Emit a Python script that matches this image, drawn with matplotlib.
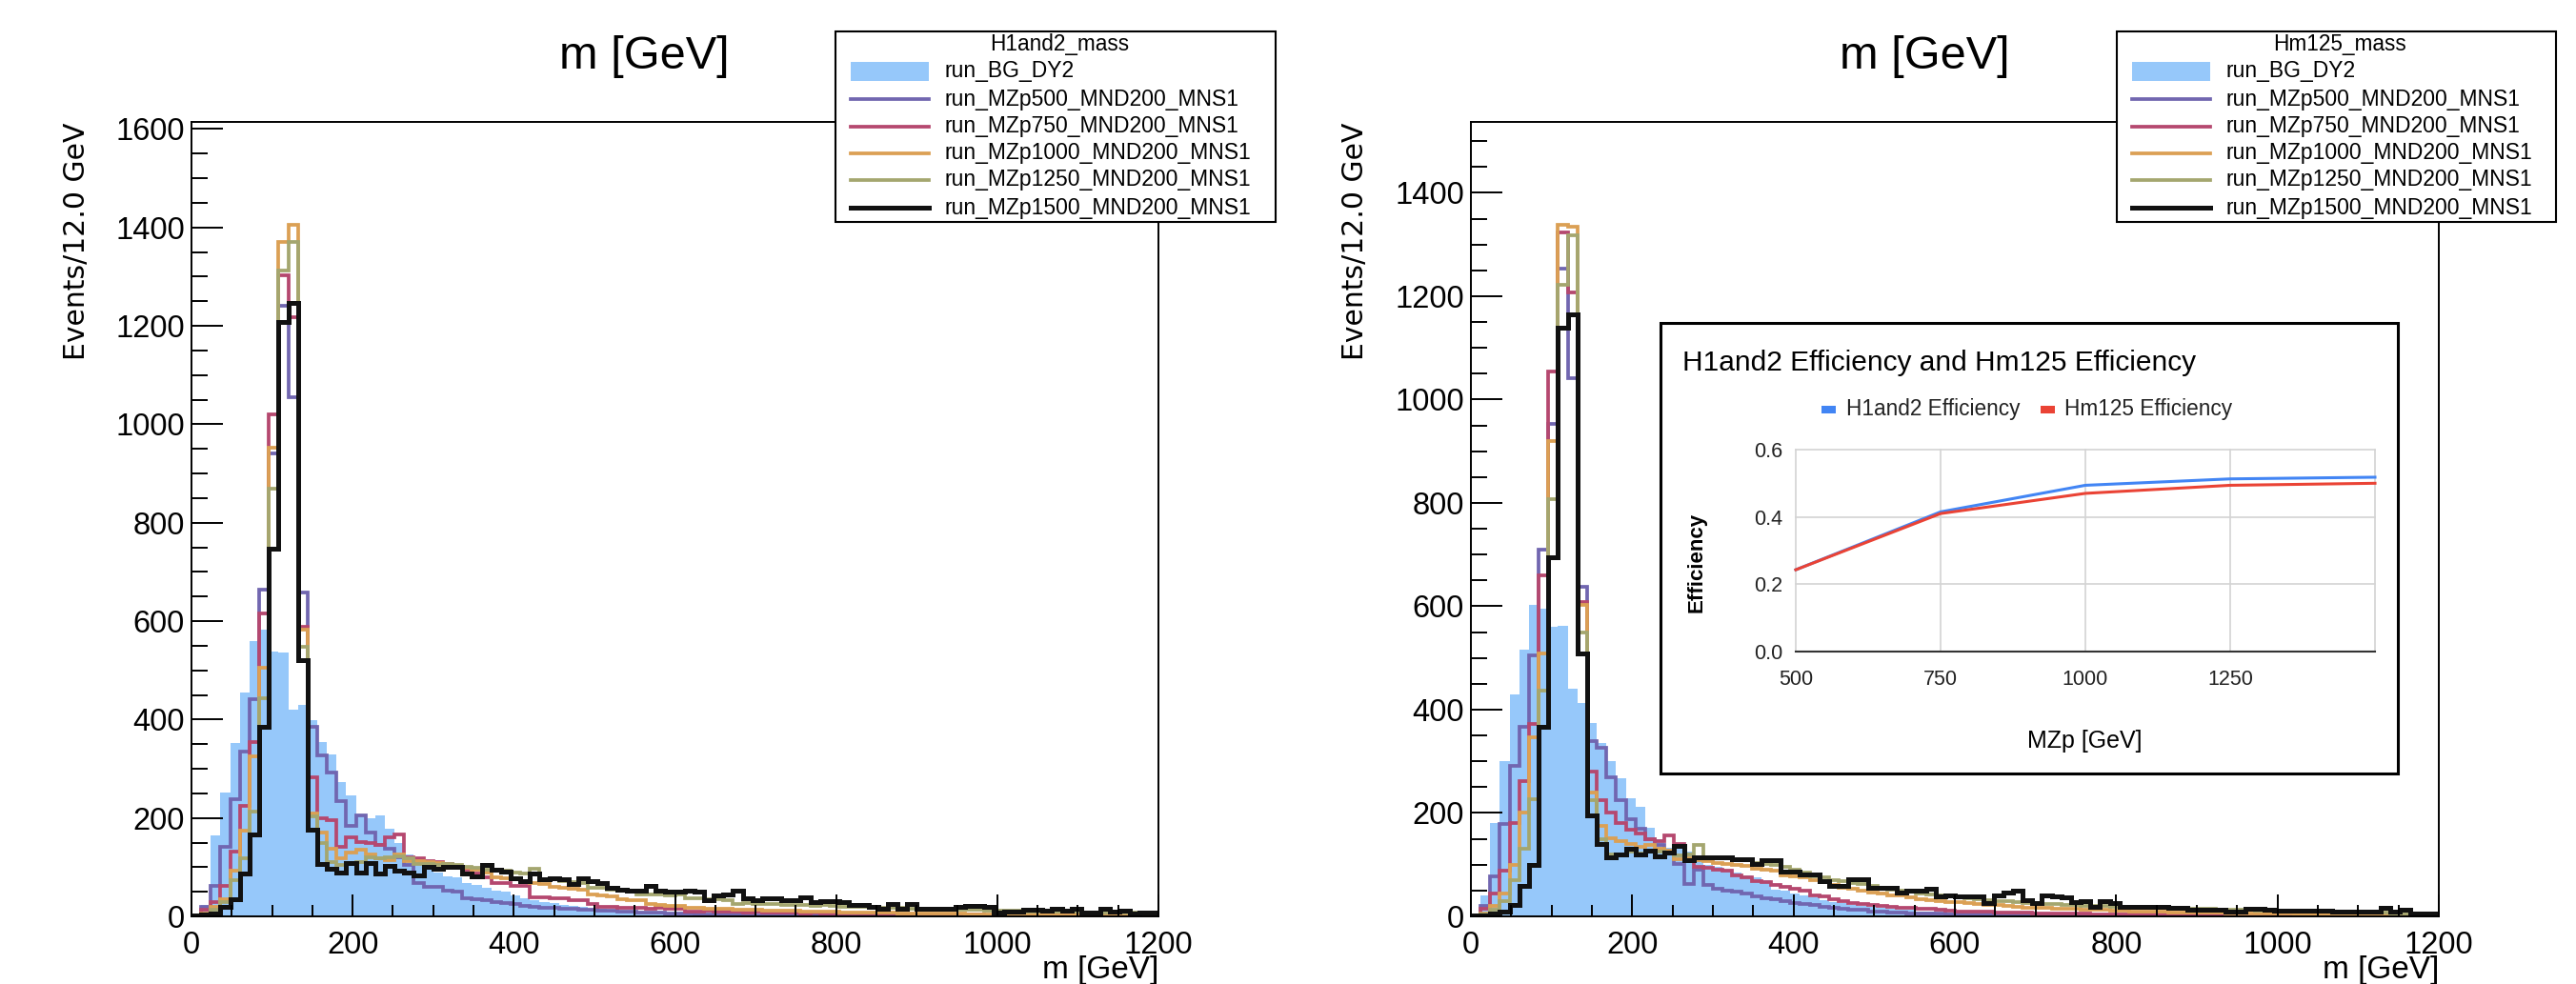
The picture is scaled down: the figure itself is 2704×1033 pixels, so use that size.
import matplotlib
matplotlib.use("Agg")
import matplotlib.pyplot as plt
import numpy as np
from matplotlib.patches import Rectangle
from matplotlib.lines import Line2D

plt.rcParams['font.family'] = ['Liberation Sans', 'DejaVu Sans']

# ---------------- data ----------------
bin_edges = np.linspace(0, 1200, 101)   # 100 bins of 12 GeV

series_names = ["run_BG_DY2", "run_MZp500_MND200_MNS1", "run_MZp750_MND200_MNS1",
                "run_MZp1000_MND200_MNS1", "run_MZp1250_MND200_MNS1", "run_MZp1500_MND200_MNS1"]

# ---- H1and2_mass (left panel) ----
h1_bg = [5, 24, 164, 252, 352, 454, 560, 583, 539, 536,
         420, 430, 399, 355, 330, 272, 245, 205, 200, 205,
         178, 150, 125, 113, 95, 90, 82, 80, 68, 64,
         58, 52, 50, 42, 37, 33, 30, 27, 24, 21,
         19, 16, 15, 13, 12, 11, 10, 9, 8, 7,
         7, 6, 5, 5, 5, 4, 4, 3, 3, 3,
         3, 2, 2, 2, 2, 2, 1, 2, 1, 1,
         1, 1, 1, 1, 1, 1, 1, 0, 1, 0,
         1, 0, 0, 1, 0, 0, 0, 1, 0, 0,
         0, 0, 0, 0, 0, 0, 0, 0, 0, 0]
h1_500 = [2, 19, 61, 142, 238, 335, 441, 663, 940, 1240,
          1055, 658, 386, 328, 293, 235, 183, 206, 171, 145,
          138, 120, 105, 68, 60, 60, 52, 50, 36, 34,
          33, 30, 27, 25, 22, 20, 18, 17, 16, 15,
          14, 13, 12, 11, 10, 9, 8, 7, 7, 6,
          5, 5, 4, 4, 3, 3, 3, 2, 2, 2,
          2, 1, 2, 1, 1, 1, 1, 1, 0, 1,
          1, 0, 1, 0, 0, 1, 0, 0, 0, 0,
          0, 0, 0, 0, 0, 0, 0, 0, 0, 0,
          0, 0, 0, 0, 0, 0, 0, 0, 0, 0]
h1_750 = [1, 13, 29, 61, 132, 225, 354, 615, 1020, 1303,
          1218, 589, 283, 200, 196, 142, 161, 151, 150, 145,
          160, 166, 120, 118, 113, 110, 107, 100, 94, 88,
          80, 68, 68, 62, 62, 39, 39, 36, 36, 33,
          33, 26, 20, 20, 17, 17, 17, 16, 17, 15,
          16, 10, 10, 11, 10, 9, 10, 8, 9, 8,
          8, 7, 7, 6, 7, 6, 5, 6, 5, 5,
          5, 4, 5, 4, 4, 4, 3, 4, 3, 3,
          3, 3, 2, 3, 2, 2, 2, 2, 2, 2,
          2, 1, 2, 1, 1, 2, 1, 1, 1, 1]
h1_1000 = [1, 5, 19, 35, 93, 174, 326, 505, 953, 1371,
           1405, 583, 209, 171, 138, 119, 129, 135, 126, 119,
           115, 125, 113, 113, 110, 108, 105, 100, 98, 95,
           90, 80, 78, 76, 70, 68, 66, 60, 58, 56,
           55, 45, 42, 40, 34, 33, 32, 25, 24, 22,
           22, 18, 17, 16, 16, 15, 14, 13, 13, 12,
           12, 11, 11, 10, 10, 9, 9, 8, 8, 8,
           7, 7, 7, 6, 6, 6, 5, 5, 5, 5,
           4, 4, 4, 4, 3, 3, 3, 3, 3, 3,
           2, 3, 2, 2, 2, 2, 2, 1, 2, 2]
h1_1250 = [1, 4, 13, 29, 74, 119, 212, 444, 869, 1313,
           1371, 547, 203, 150, 110, 105, 108, 110, 120, 118,
           120, 122, 118, 107, 107, 105, 107, 104, 100, 98,
           95, 94, 92, 90, 88, 97, 75, 75, 72, 70,
           68, 58, 58, 55, 52, 52, 45, 45, 44, 42,
           45, 36, 36, 35, 34, 33, 26, 27, 26, 25,
           26, 24, 24, 23, 22, 23, 21, 20, 20, 19,
           18, 18, 17, 17, 16, 16, 15, 15, 14, 14,
           13, 13, 12, 12, 11, 11, 10, 10, 10, 9,
           9, 9, 8, 8, 8, 7, 7, 7, 6, 6]
h1_1500 = [1, 3, 6, 19, 35, 88, 167, 386, 747, 1208,
           1247, 520, 177, 106, 97, 90, 109, 90, 109, 87,
           103, 93, 90, 84, 100, 97, 100, 100, 88, 81,
           104, 94, 91, 78, 71, 88, 75, 78, 75, 65,
           78, 71, 68, 59, 55, 52, 52, 62, 52, 50,
           50, 52, 50, 33, 42, 45, 52, 36, 33, 36,
           37, 33, 33, 39, 29, 31, 31, 29, 23, 23,
           20, 16, 26, 16, 26, 16, 15, 15, 15, 20,
           21, 21, 20, 7, 10, 10, 13, 13, 11, 16,
           11, 16, 7, 7, 15, 10, 11, 5, 7, 7]

# ---- Hm125_mass (right panel) ----
hm_bg = [5, 40, 181, 300, 430, 516, 603, 595, 560, 563,
         440, 412, 375, 335, 300, 267, 228, 212, 171, 150,
         133, 139, 125, 115, 100, 96, 90, 85, 80, 75,
         70, 52, 50, 45, 40, 36, 32, 28, 25, 22,
         20, 18, 16, 14, 13, 12, 10, 9, 8, 8,
         7, 6, 6, 5, 5, 4, 4, 4, 3, 3,
         3, 2, 3, 2, 2, 2, 1, 2, 1, 1,
         1, 1, 1, 1, 1, 1, 0, 1, 0, 1,
         0, 0, 1, 0, 0, 0, 0, 0, 1, 0,
         0, 0, 0, 0, 0, 0, 0, 0, 0, 0]
hm_500 = [2, 20, 78, 178, 292, 367, 505, 710, 953, 1254,
          1041, 637, 340, 326, 270, 224, 188, 170, 150, 139,
          127, 102, 62, 90, 60, 53, 50, 48, 45, 38,
          35, 33, 30, 25, 24, 22, 18, 16, 15, 13,
          12, 10, 9, 8, 7, 6, 6, 5, 5, 4,
          4, 3, 3, 3, 2, 2, 2, 2, 1, 2,
          1, 1, 1, 1, 1, 0, 1, 0, 1, 0,
          0, 1, 0, 0, 0, 0, 0, 0, 0, 0,
          0, 0, 0, 0, 0, 0, 0, 0, 0, 0,
          0, 0, 0, 0, 0, 0, 0, 0, 0, 0]
hm_750 = [1, 15, 45, 88, 180, 261, 372, 659, 1054, 1324,
          1207, 608, 280, 225, 200, 180, 168, 160, 150, 145,
          157, 140, 110, 96, 94, 90, 88, 80, 75, 68,
          66, 60, 58, 53, 50, 40, 38, 33, 30, 26,
          24, 22, 20, 18, 17, 16, 15, 14, 12, 11,
          10, 10, 9, 9, 8, 8, 7, 7, 6, 6,
          6, 5, 5, 5, 4, 4, 4, 4, 3, 3,
          3, 3, 3, 3, 2, 2, 2, 2, 2, 2,
          2, 2, 1, 2, 1, 1, 1, 1, 1, 1,
          1, 1, 1, 1, 1, 0, 1, 1, 0, 1]
hm_1000 = [1, 6, 20, 45, 100, 200, 347, 508, 920, 1339,
           1334, 603, 240, 176, 151, 145, 140, 135, 138, 130,
           128, 110, 112, 108, 106, 104, 102, 100, 98, 92,
           90, 88, 80, 77, 75, 70, 68, 60, 55, 53,
           50, 47, 45, 41, 40, 36, 34, 32, 30, 28,
           28, 25, 24, 22, 22, 20, 19, 17, 16, 16,
           15, 14, 14, 13, 12, 12, 11, 11, 10, 10,
           9, 9, 8, 8, 8, 7, 7, 7, 6, 6,
           6, 5, 5, 5, 5, 4, 4, 4, 4, 3,
           3, 3, 3, 3, 3, 2, 3, 2, 2, 2]
hm_1250 = [1, 4, 13, 30, 70, 130, 226, 437, 807, 1222,
           1317, 550, 225, 150, 120, 118, 125, 122, 128, 125,
           122, 118, 120, 139, 114, 112, 112, 110, 108, 104,
           102, 100, 95, 90, 85, 77, 75, 70, 68, 65,
           62, 59, 55, 52, 50, 48, 45, 43, 41, 40,
           38, 35, 33, 31, 30, 30, 28, 26, 25, 24,
           24, 23, 22, 21, 21, 20, 19, 19, 18, 17,
           17, 16, 16, 15, 15, 14, 14, 13, 13, 12,
           12, 11, 11, 11, 10, 10, 9, 9, 9, 8,
           8, 8, 7, 7, 7, 6, 6, 6, 5, 5]
hm_1500 = [1, 2, 5, 10, 22, 59, 100, 367, 694, 1140,
           1165, 508, 195, 140, 114, 120, 130, 120, 128, 117,
           124, 136, 108, 114, 114, 114, 114, 111, 111, 102,
           108, 108, 87, 87, 81, 81, 68, 59, 59, 71,
           71, 56, 56, 56, 47, 50, 50, 53, 38, 41,
           38, 38, 38, 25, 41, 47, 50, 31, 25, 40,
           38, 36, 28, 30, 19, 30, 25, 19, 19, 19,
           19, 19, 16, 16, 13, 13, 13, 13, 10, 10,
           15, 15, 12, 11, 11, 11, 11, 11, 11, 10,
           10, 10, 10, 10, 16, 9, 12, 5, 5, 5]

# ---- inset efficiency chart ----
mzp_points = [500, 750, 1000, 1250, 1500]
eff_h1and2 = [0.243, 0.415, 0.494, 0.513, 0.518]
eff_hm125 = [0.243, 0.410, 0.470, 0.494, 0.500]

# ---------------- style ----------------
bg_color = '#96c8fa'
line_colors = ['#7166b0', '#b5486f', '#dba054', '#a4a66f', '#111111']
line_widths = [2.7, 2.7, 2.7, 2.7, 3.6]

W, H = 2704, 1033
fig = plt.figure(figsize=(W / 100, H / 100), dpi=100)


def fx(x):
    return x / W


def fy(y):
    return 1 - y / H


def draw_panel(x0, x1, y0, y1, ymax, bg, sigs, title_x, ylab_x):
    ax = fig.add_axes([fx(x0), fy(y1), (x1 - x0) / W, (y1 - y0) / H], zorder=1)
    ax.stairs(bg, bin_edges, fill=True, color=bg_color, lw=0)
    for vals, c, lw in zip(sigs, line_colors, line_widths):
        ax.stairs(vals, bin_edges, color=c, lw=lw, baseline=0)
    ax.set_xlim(0, 1200)
    ax.set_ylim(0, ymax)
    ax.set_xticks(np.arange(0, 1201, 200))
    ax.set_xticks(np.arange(0, 1201, 50), minor=True)
    ax.set_yticks(np.arange(0, ymax, 200))
    ax.set_yticks(np.arange(0, ymax, 50), minor=True)
    ax.tick_params(which='both', direction='in', top=False, right=False, width=1.4)
    ax.tick_params(axis='y', which='major', length=24, pad=5, labelsize=23.5)
    ax.tick_params(axis='y', which='minor', length=12)
    ax.tick_params(axis='x', which='major', length=16.5, pad=11, labelsize=23.5)
    ax.tick_params(axis='x', which='minor', length=9)
    for s in ax.spines.values():
        s.set_linewidth(1.4)
    fig.text(fx(title_x), fy(60), 'm [GeV]', fontsize=35, ha='center', va='center')
    fig.text(fx(ylab_x), fy(128), 'Events/12.0 GeV', rotation=90, ha='center', va='top',
             fontsize=21.5, family=['DejaVu Sans'])
    fig.text(fx(x1), fy(1003), 'm [GeV]', ha='right', va='top', fontsize=24)
    return ax


def draw_legend(x0, x1, y0, y1, title):
    fig.add_artist(Rectangle((fx(x0), fy(y1)), (x1 - x0) / W, (y1 - y0) / H,
                             transform=fig.transFigure, facecolor='white',
                             edgecolor='black', lw=1.5, zorder=10))
    fig.text(fx((x0 + x1) / 2 + 4), fy(47), title, ha='center', va='center',
             fontsize=16.3, zorder=11)
    rows = [75, 104, 133, 161, 189, 218]
    sx0, sx1 = x0 + 16, x0 + 98
    for i, (name, y) in enumerate(zip(series_names, rows)):
        if i == 0:
            fig.add_artist(Rectangle((fx(sx0), fy(y + 10)), (sx1 - sx0) / W, 20 / H,
                                     transform=fig.transFigure, facecolor=bg_color,
                                     lw=0, zorder=11))
        else:
            fig.add_artist(Line2D([fx(sx0), fx(sx1)], [fy(y), fy(y)],
                                  transform=fig.transFigure, color=line_colors[i - 1],
                                  lw=line_widths[i - 1], zorder=11))
        fig.text(fx(x0 + 114), fy(y), name, ha='left', va='center', fontsize=16.5, zorder=11)


draw_panel(201, 1216, 127.6, 962, 1615, h1_bg, [h1_500, h1_750, h1_1000, h1_1250, h1_1500],
           676, 80)
draw_panel(1544, 2560, 127.6, 962, 1538, hm_bg, [hm_500, hm_750, hm_1000, hm_1250, hm_1500],
           2020, 1423)
draw_legend(877, 1339, 33, 233, 'H1and2_mass')
draw_legend(2222, 2683, 33, 233, 'Hm125_mass')

# ---------------- inset ----------------
fig.add_artist(Rectangle((fx(1743), fy(812)), (2517 - 1743) / W, (812 - 339) / H,
                         transform=fig.transFigure, facecolor='white', edgecolor='black',
                         lw=2.2, zorder=20))
ax2 = fig.add_axes([fx(1885), fy(684), (2493 - 1885) / W, (684 - 472) / H], zorder=30)
ax2.patch.set_alpha(0)
ax2.set_xlim(500, 1500)
ax2.set_ylim(0, 0.6)
ax2.set_xticks([500, 750, 1000, 1250, 1500])
ax2.set_xticklabels(['500', '750', '1000', '1250', ''])
ax2.set_yticks([0.0, 0.2, 0.4, 0.6])
ax2.set_yticklabels(['0.0', '0.2', '0.4', '0.6'])
ax2.grid(True, color='#d3d3d3', lw=1.2, clip_on=False)
for g in ax2.get_xgridlines() + ax2.get_ygridlines():
    g.set_clip_on(False)
ax2.tick_params(length=0, labelsize=15.5, colors='#222222')
ax2.tick_params(axis='y', pad=10)
ax2.tick_params(axis='x', pad=14)
for k in ['top', 'right', 'left']:
    ax2.spines[k].set_visible(False)
ax2.spines['bottom'].set_color('#333333')
ax2.spines['bottom'].set_linewidth(1.5)
ax2.set_axisbelow(True)
ax2.plot(mzp_points, eff_h1and2, color='#4285f4', lw=2.2, clip_on=False)
ax2.plot(mzp_points, eff_hm125, color='#ea4335', lw=2.2, clip_on=False)

fig.text(fx(1766), fy(381), 'H1and2 Efficiency and Hm125 Efficiency', ha='left', va='center',
         fontsize=21.5, zorder=31)
fig.add_artist(Rectangle((fx(1912), fy(434)), 15 / W, 8 / H, transform=fig.transFigure,
                         facecolor='#4285f4', lw=0, zorder=31))
fig.text(fx(1938), fy(430), 'H1and2 Efficiency', ha='left', va='center', fontsize=16.3,
         color='#222222', zorder=31)
fig.add_artist(Rectangle((fx(2142), fy(434)), 15 / W, 8 / H, transform=fig.transFigure,
                         facecolor='#ea4335', lw=0, zorder=31))
fig.text(fx(2167), fy(430), 'Hm125 Efficiency', ha='left', va='center', fontsize=16.3,
         color='#222222', zorder=31)
fig.text(fx(1781), fy(590), 'Efficiency', rotation=90, ha='center', va='center',
         fontsize=16, fontweight='bold', zorder=31)
fig.text(fx(2188), fy(778), 'MZp [GeV]', ha='center', va='center', fontsize=18, zorder=31)

fig.savefig('out.png', dpi=100)
